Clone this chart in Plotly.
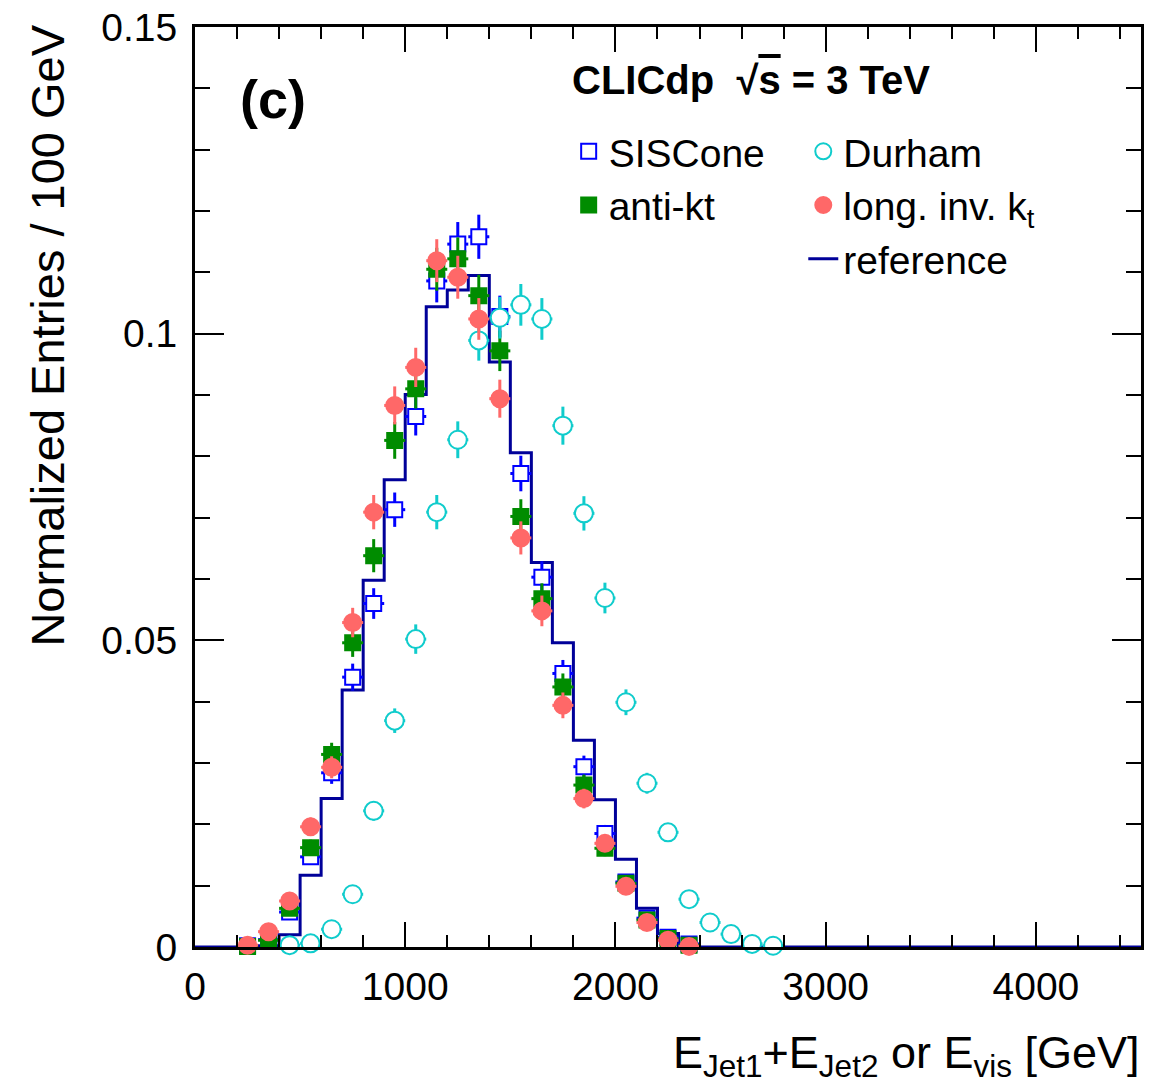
import plotly.graph_objects as go

# ---------------- data ----------------
# bin centres (GeV) for the jet-algorithm points
centers_jets = [250, 350, 450, 550, 650, 750, 850, 950, 1050, 1150, 1250,
                1350, 1450, 1550, 1650, 1750, 1850, 1950, 2050, 2150, 2250, 2350]
centers_durham = [450, 550, 650, 750, 850, 950, 1050, 1150, 1250, 1350, 1450, 1550,
                  1650, 1750, 1850, 1950, 2050, 2150, 2250, 2350, 2450, 2550, 2650, 2750]
half_bin = [50] * 24

siscone = [0.0002, 0.0012, 0.0057, 0.0147, 0.0284, 0.0440, 0.0560, 0.0713, 0.0865, 0.1086, 0.1146,
           0.1158, 0.1028, 0.0772, 0.0603, 0.0446, 0.0294, 0.0185, 0.0106, 0.0047, 0.0016, 0.0005]
siscone_err = [0.0002, 0.0004, 0.0008, 0.0013, 0.0018, 0.0022, 0.0025, 0.0028, 0.0031, 0.0035, 0.0036,
               0.0036, 0.0034, 0.0029, 0.0026, 0.0022, 0.0018, 0.0014, 0.0011, 0.0007, 0.0004, 0.0002]

antikt = [0.0001, 0.0011, 0.0063, 0.0162, 0.0314, 0.0496, 0.0638, 0.0826, 0.0910, 0.1105, 0.1122,
          0.1062, 0.0972, 0.0702, 0.0568, 0.0424, 0.0264, 0.0161, 0.0104, 0.0044, 0.0014, 0.0003]
antikt_err = [0.0001, 0.0003, 0.0008, 0.0013, 0.0019, 0.0023, 0.0027, 0.0030, 0.0032, 0.0035, 0.0035,
              0.0034, 0.0033, 0.0028, 0.0025, 0.0022, 0.0017, 0.0013, 0.0011, 0.0007, 0.0004, 0.0002]

longinvkt = [0.0003, 0.0025, 0.0075, 0.0196, 0.0293, 0.0529, 0.0709, 0.0883, 0.0945, 0.1119, 0.1092,
             0.1024, 0.0894, 0.0667, 0.0548, 0.0394, 0.0242, 0.0169, 0.0099, 0.0040, 0.0011, 0.0001]
longinvkt_err = [0.0002, 0.0005, 0.0009, 0.0015, 0.0018, 0.0024, 0.0028, 0.0031, 0.0032, 0.0035, 0.0035,
                 0.0034, 0.0031, 0.0027, 0.0025, 0.0021, 0.0016, 0.0014, 0.0010, 0.0007, 0.0003, 0.0001]

durham = [0.0003, 0.0006, 0.0029, 0.0086, 0.0222, 0.0369, 0.0502, 0.0709, 0.0827, 0.0989, 0.1026, 0.1047,
          0.1024, 0.0850, 0.0707, 0.0569, 0.0399, 0.0267, 0.0187, 0.0078, 0.0040, 0.0021, 0.0005, 0.0002]
durham_err = [0.0002, 0.0003, 0.0006, 0.0010, 0.0016, 0.0020, 0.0024, 0.0028, 0.0030, 0.0033, 0.0034, 0.0034,
              0.0034, 0.0031, 0.0028, 0.0025, 0.0021, 0.0017, 0.0014, 0.0009, 0.0007, 0.0005, 0.0002, 0.0001]

# reference histogram: bin edges (GeV) and contents
ref_edges = list(range(0, 4600, 100))
ref_values = [0, 0, 0, 0.0002, 0.0020, 0.0117, 0.0242, 0.0419, 0.0598, 0.0762, 0.0901, 0.1044,
              0.1071, 0.1095, 0.0954, 0.0806, 0.0627, 0.0496, 0.0337, 0.0240, 0.0143, 0.0063,
              0.0022, 0.0002] + [0] * 21

x_ticks = [0, 1000, 2000, 3000, 4000]
y_ticks = [0, 0.05, 0.1, 0.15]
y_ticklabels = ["0", "0.05", "0.1", "0.15"]

# ---------------- style ----------------
FONT = "Liberation Sans, Arial, Helvetica, sans-serif"
C_SIS = "#0000ff"
C_AKT = "#008c00"
C_DUR = "#10cccc"
C_LIK = "#ff6868"
C_REF = "#000099"

fig = go.Figure()

# reference step histogram
fig.add_trace(go.Scatter(
    x=ref_edges, y=ref_values + [ref_values[-1]],
    mode="lines", line=dict(color=C_REF, width=3, shape="hv"),
    name="reference", legend="legend2", legendrank=3, cliponaxis=False,
))


def points(x, y, err, color, fill, symbol, name, legend, rank, size):
    return go.Scatter(
        x=x, y=y, mode="markers", name=name, legend=legend, legendrank=rank,
        marker=dict(symbol=symbol, size=size, color=fill,
                    line=dict(color=color, width=2)),
        error_y=dict(type="data", array=err, color=color, thickness=3, width=0),
        error_x=dict(type="data", array=half_bin[:len(x)], color=color, thickness=3, width=0),
        cliponaxis=False,
    )


fig.add_trace(points(centers_jets, siscone, siscone_err, C_SIS, "white", "square", "SISCone", "legend", 1, 15))
fig.add_trace(points(centers_jets, antikt, antikt_err, C_AKT, C_AKT, "square", "anti-kt", "legend", 2, 15))
fig.add_trace(points(centers_durham, durham, durham_err, C_DUR, "white", "circle", "Durham", "legend2", 1, 18))
fig.add_trace(points(centers_jets, longinvkt, longinvkt_err, C_LIK, C_LIK, "circle", "long. inv. k<sub>t</sub>", "legend2", 2, 17))

axis_common = dict(
    showline=True, linecolor="black", linewidth=3, mirror="allticks",
    ticks="inside", tickcolor="black", tickwidth=2,
    showgrid=False, zeroline=False, ticklabeloverflow="allow", automargin=False,
    tickfont=dict(family=FONT, size=39, color="black"),
)

fig.update_xaxes(
    range=[0, 4500], tickvals=x_ticks, ticktext=[str(v) for v in x_ticks],
    ticklen=25, ticklabelstandoff=3,
    minor=dict(dtick=200, tick0=0, ticklen=12, tickwidth=2, tickcolor="black", ticks="inside"),
    **axis_common,
)
fig.update_yaxes(
    range=[0, 0.15], tickvals=y_ticks, ticktext=y_ticklabels,
    ticklen=29, ticklabelstandoff=7,
    minor=dict(dtick=0.01, tick0=0, ticklen=15, tickwidth=2, tickcolor="black", ticks="inside"),
    **axis_common,
)

legend_common = dict(
    font=dict(family=FONT, size=39, color="black"),
    bgcolor="rgba(0,0,0,0)", borderwidth=0,
    xanchor="left", yanchor="top", orientation="v",
    itemsizing="trace",
)
fig.update_layout(
    width=1162, height=1076,
    margin=dict(l=187, r=29, t=19, b=137, autoexpand=False),
    plot_bgcolor="white", paper_bgcolor="white",
    font=dict(family=FONT, color="black"),
    legend=dict(x=0.395, y=0.8995, **legend_common),
    legend2=dict(x=0.643, y=0.8995, **legend_common),
    showlegend=True,
)

fig.add_annotation(
    text="<b>(c)</b>", xref="paper", yref="paper", x=0.0825, y=0.922,
    xanchor="center", yanchor="middle", showarrow=False,
    font=dict(family=FONT, size=54, color="black"),
)
fig.add_annotation(
    text="<b>CLICdp  √<span style='text-decoration:overline'>s</span> = 3 TeV</b>",
    xref="paper", yref="paper", x=0.396, y=0.9425,
    xanchor="left", yanchor="middle", showarrow=False,
    font=dict(family=FONT, size=40, color="black"),
)
fig.add_annotation(
    text="Normalized Entries / 100 GeV", textangle=-90,
    xref="paper", yref="paper", x=-0.156, y=0.665,
    xanchor="center", yanchor="middle", showarrow=False,
    font=dict(family=FONT, size=47, color="black"),
)
fig.add_annotation(
    text="E<sub>Jet1</sub>+E<sub>Jet2</sub> or E<sub>vis</sub> [GeV]",
    xref="paper", yref="paper", x=1.001, y=-0.118,
    xanchor="right", yanchor="middle", showarrow=False,
    font=dict(family=FONT, size=45, color="black"),
)

fig.write_html("out.html")
